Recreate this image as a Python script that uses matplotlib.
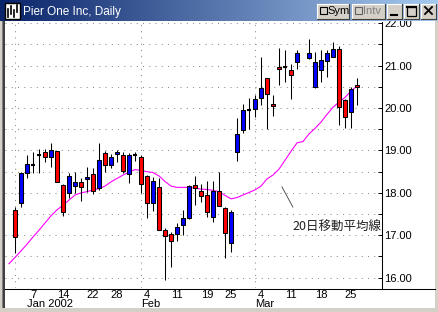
import matplotlib
matplotlib.use('Agg')
import matplotlib.pyplot as plt
import matplotlib.transforms as mtransforms
from matplotlib.colors import LinearSegmentedColormap
from matplotlib.patches import Rectangle
import numpy as np

plt.rcParams['font.family'] = ['Liberation Sans', 'DejaVu Sans']

# Pier One Inc, daily candles; slot 0 = 2 Jan 2002 (slot 48 has no data)
slot = list(range(58))
opens = [17.60, 17.77, 18.46, 18.66, 18.89, 18.96, 18.85, 18.99, 18.19, 17.99,
         18.17, 18.25, 18.32, 18.44, 18.11, 18.93, 18.66, 18.91, 18.89, 18.44,
         18.89, 18.84, 18.41, 17.75, 18.13, 17.13, 17.02, 17.03, 17.24, 17.40,
         18.19, 18.04, 17.95, 17.44, 18.04, 17.64, 16.83, 18.97, 19.48, 19.96,
         19.97, 20.23, 20.70, 20.09, 20.98, 20.98, 20.90, 21.08, np.nan, 21.17,
         20.49, 20.90, 21.12, 21.21, 21.39, 20.19, 19.90, 20.54]
highs = [17.67, 18.50, 18.89, 18.96, 19.04, 19.04, 19.17, 18.99, 18.20, 18.46,
         18.49, 18.34, 18.60, 18.58, 19.17, 18.99, 18.92, 19.01, 18.97, 18.93,
         18.97, 18.89, 18.42, 18.38, 18.34, 17.18, 17.08, 17.28, 17.60, 18.18,
         18.41, 18.22, 18.28, 18.28, 18.50, 17.66, 17.60, 19.76, 20.10, 20.23,
         20.31, 21.21, 20.72, 20.31, 21.42, 21.37, 21.03, 21.37, np.nan, 21.62,
         21.32, 21.37, 21.37, 21.57, 21.46, 20.22, 20.50, 20.72]
lows = [16.58, 17.67, 18.36, 18.48, 18.48, 18.74, 18.62, 18.26, 17.46, 17.87,
        17.99, 17.82, 18.01, 17.98, 18.07, 18.50, 18.58, 18.74, 18.46, 18.23,
        18.76, 17.99, 17.40, 17.58, 17.12, 15.95, 16.25, 16.87, 17.01, 17.38,
        17.71, 17.78, 17.44, 17.32, 17.69, 16.46, 16.60, 18.76, 19.42, 19.50,
        19.78, 20.07, 19.50, 19.82, 20.54, 20.62, 20.21, 20.92, np.nan, 21.16,
        20.48, 20.62, 20.74, 21.20, 19.60, 19.54, 19.54, 20.07]
closes = [16.97, 18.46, 18.67, 18.66, 18.89, 18.85, 19.01, 18.26, 17.56, 18.40,
          18.25, 18.13, 18.37, 18.04, 18.77, 18.66, 18.84, 18.97, 18.52, 18.89,
          18.89, 18.20, 17.75, 18.29, 17.13, 16.98, 16.87, 17.19, 17.40, 18.16,
          18.12, 17.93, 17.56, 18.04, 17.70, 17.05, 17.54, 19.39, 19.96, 19.96,
          20.22, 20.47, 20.33, 20.04, 20.92, 20.98, 20.78, 21.29, np.nan, 21.29,
          21.08, 21.13, 21.29, 21.39, 20.02, 19.78, 20.45, 20.49]

# 20日移動平均
ma_slot = list(range(-1, 58))
ma20 = [16.33, 16.48, 16.63, 16.79, 16.96, 17.12, 17.29, 17.46, 17.60, 17.71,
        17.83, 17.95, 18.00, 18.03, 18.07, 18.10, 18.16, 18.26, 18.34, 18.42,
        18.49, 18.55, 18.53, 18.50, 18.48, 18.40, 18.27, 18.16, 18.13, 18.13,
        18.13, 18.11, 18.09, 18.08, 18.06, 18.03, 17.94, 17.86, 17.89, 17.95,
        18.01, 18.07, 18.16, 18.33, 18.42, 18.56, 18.77, 18.98, 19.18, 19.21,
        19.39, 19.52, 19.67, 19.85, 20.02, 20.14, 20.25, 20.40, 20.52]

tick_slot = [3, 8, 13, 17, 22, 27, 32, 36, 41, 46, 51, 56]
tick_day = ['7', '14', '22', '28', '4', '11', '19', '25', '4', '11', '18', '25']
month_slot = [0, 21, 40]
month_lab_slot = [2, 21, 40]
month_lab = ['Jan 2002', 'Feb', 'Mar']

W, H = 439, 312
fig = plt.figure(figsize=(W / 100, H / 100), dpi=100, facecolor='white')


def px(x0, y0, x1, y1):
    return [x0 / W, 1 - y1 / H, (x1 - x0) / W, (y1 - y0) / H]


# ---- background / window border
bg = fig.add_axes([0, 0, 1, 1], zorder=0)
bg.set_xlim(0, W)
bg.set_ylim(H, 0)
bg.axis('off')
bg.add_patch(Rectangle((0, 21), 2, H - 21, color='#D4D0C8', lw=0))
bg.add_patch(Rectangle((2, 21), 1.5, H - 21, color='#808080', lw=0))
bg.add_patch(Rectangle((3.5, 21), 1.5, H - 21, color='#404040', lw=0))
bg.add_patch(Rectangle((0, 308), W, 4, color='#D4D0C8', lw=0))
bg.add_patch(Rectangle((435.5, 21), 3.5, H - 21, color='#D4D0C8', lw=0))
bg.plot([5, 435.5], [288.5, 288.5], color='black', lw=0.75)

# ---- chart
ax = fig.add_axes(px(5, 22, 382, 288), zorder=1)
ax.set_facecolor('none')

x = np.array(slot, dtype=float)
o = np.array(opens)
h = np.array(highs)
l = np.array(lows)
c = np.array(closes)
ok = ~np.isnan(o)
up = ok & (c > o)
dn = ok & (c < o)
flat = ok & (c == o)

ax.plot(ma_slot, ma20, color='#FF00FF', lw=0.8, zorder=2)
ax.vlines(x[ok], l[ok], h[ok], color='black', lw=0.75, zorder=3)
ax.bar(x[up], (c - o)[up], bottom=o[up], width=0.72, color='#0000FF',
       edgecolor='black', linewidth=0.75, zorder=4)
ax.bar(x[dn], (c - o)[dn], bottom=o[dn], width=0.72, color='#FF0000',
       edgecolor='black', linewidth=0.75, zorder=4)
ax.hlines(o[flat], x[flat] - 0.4, x[flat] + 0.4, color='black', lw=1.5, zorder=4)

ax.set_xlim(-1.667, 61.17)
ax.set_ylim(15.757, 22.03)

for s in ['top', 'left', 'bottom']:
    ax.spines[s].set_visible(False)
ax.spines['right'].set_linewidth(0.75)

ax.yaxis.tick_right()
ax.set_yticks(np.arange(16, 22.01, 1.0))
ax.set_yticklabels(['%.2f' % v for v in np.arange(16, 22.01, 1.0)])
ax.set_yticks(np.arange(16.5, 22, 1.0), minor=True)
ax.tick_params(axis='y', which='both', direction='in', length=3, width=0.7,
               pad=1.5, labelsize=8, right=True, left=False)

ax.set_xticks(tick_slot)
ax.set_xticklabels(tick_day)
ax.set_xticks(month_slot, minor=True)
ax.tick_params(axis='x', which='both', length=0, pad=1.6, labelsize=8)

dot = (0, (1, 5))
ax.yaxis.grid(True, which='both', color='#8C8C8C', linestyle=dot, lw=0.75)
ax.xaxis.grid(True, which='minor', color='#8C8C8C', linestyle=dot, lw=0.75)
ax.set_axisbelow(True)

trans = mtransforms.blended_transform_factory(ax.transData, fig.transFigure)
for s, t in zip(month_lab_slot, month_lab):
    ax.text(s, 1 - 307.3 / H, t, transform=trans, ha='left', va='baseline',
            fontsize=8)

# annotation for the moving average line
ax.plot([44.5, 46.3], [18.14, 17.67], color='#606060', lw=0.75, zorder=5)
ax.text(46.17, 17.196, '20日移動平均線', ha='left', va='center', fontsize=9,
        family=['Noto Sans CJK JP', 'DejaVu Sans'], color='#202020', zorder=5)

# ---- title bar
top = fig.add_axes([0, 0, 1, 1], zorder=10)
top.set_facecolor('none')
cmap = LinearSegmentedColormap.from_list('tb', ['#0A246A', '#A6CAF0'])
top.imshow(np.linspace(0, 1, 256)[None, :], cmap=cmap, extent=(0, W, 21, 0),
           aspect='auto')
top.set_xlim(0, W)
top.set_ylim(H, 0)
top.axis('off')

# icon
top.add_patch(Rectangle((5, 3), 15, 16, facecolor='white', edgecolor='black', lw=1))
for xi, y0, y1 in [(8, 9, 17), (11, 6, 14), (14, 10, 17), (17, 5, 12)]:
    top.plot([xi, xi], [y0, y1], color='black', lw=1.2)
top.text(23, 11.5, 'Pier One Inc, Daily', color='white', fontsize=8.5,
         va='center', ha='left')


def button(x0, x1, y0=3.5, y1=18.5):
    top.add_patch(Rectangle((x0, y0), x1 - x0, y1 - y0, facecolor='#D4D0C8',
                            edgecolor='none'))
    top.plot([x0, x1], [y0, y0], color='white', lw=0.8)
    top.plot([x0, x0], [y0, y1], color='white', lw=0.8)
    top.plot([x0, x1], [y1, y1], color='#404040', lw=0.8)
    top.plot([x1, x1], [y0, y1], color='#404040', lw=0.8)


button(317, 349.5)
top.add_patch(Rectangle((320, 7), 7, 7, facecolor='#D4D0C8', edgecolor='black', lw=0.8))
top.text(327.5, 11.5, 'Sym', fontsize=8, va='center', ha='left', color='black')
button(352, 385)
top.add_patch(Rectangle((355, 7), 7, 7, facecolor='#D4D0C8', edgecolor='#606060', lw=0.8))
top.text(363, 11.5, 'Intv', fontsize=8, va='center', ha='left', color='#808080')
button(387, 402.5)
top.plot([391, 397], [15, 15], color='black', lw=1.5)
button(404, 419.5)
top.add_patch(Rectangle((407, 6.5), 9, 9, facecolor='none', edgecolor='black', lw=0.9))
top.plot([407, 416], [7, 7], color='black', lw=1.5)
button(421, 436.5)
top.plot([425, 432], [7, 14], color='black', lw=1.3)
top.plot([432, 425], [7, 14], color='black', lw=1.3)

fig.savefig('out.png', dpi=100, facecolor='white')
